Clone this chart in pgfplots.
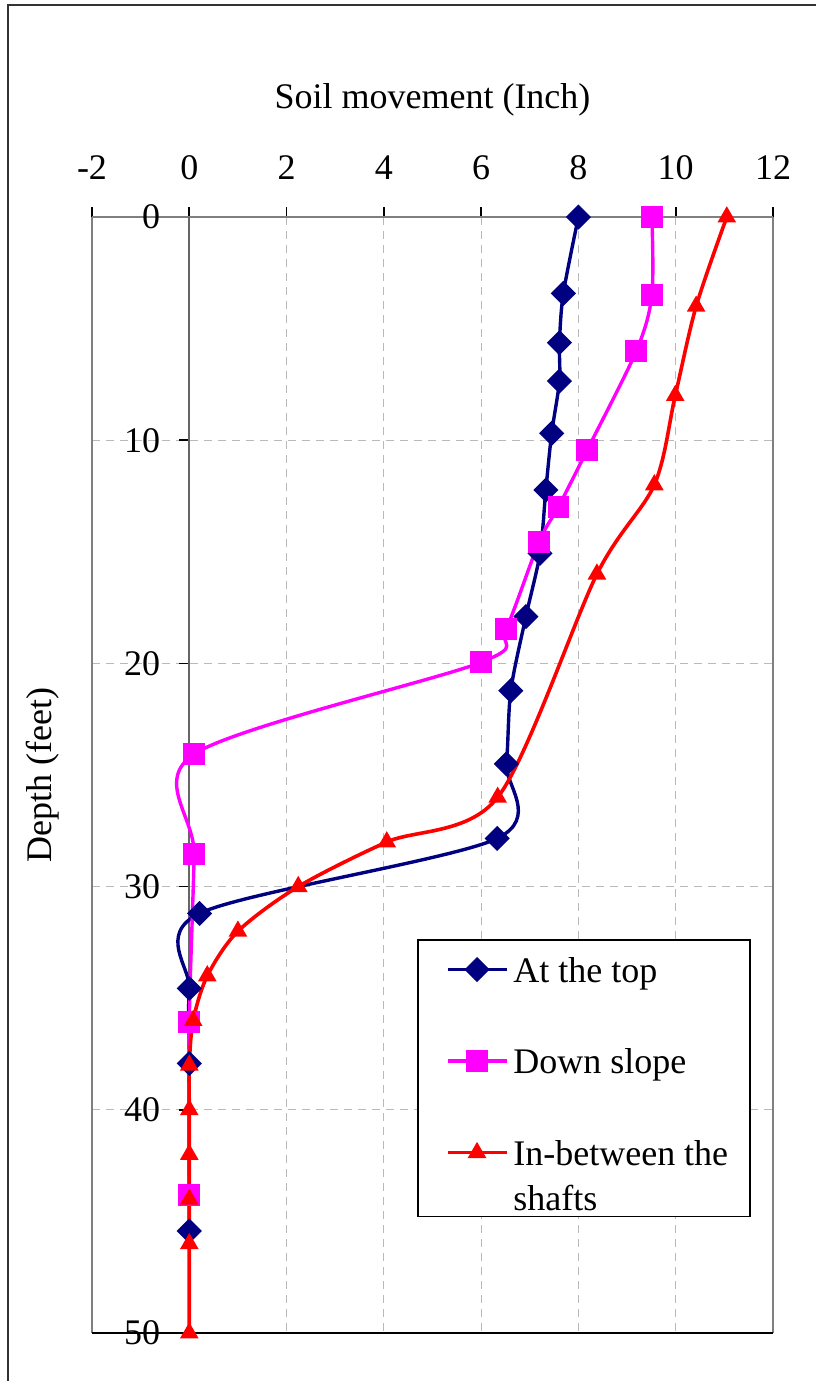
\documentclass[border=0pt]{standalone}
\usepackage{pgfplots}
\pgfplotsset{compat=1.18}
\usepackage{fontspec}
\setmainfont{Liberation Serif}
\definecolor{navyb}{RGB}{0,0,128}
\definecolor{magp}{RGB}{255,0,255}
\definecolor{redt}{RGB}{255,0,0}
\newcommand{\lentry}[1]{\raisebox{4pt}{\rule[-4pt]{0pt}{17pt}#1}}
\begin{document}
\begin{tikzpicture}
\useasboundingbox (0,0) rectangle (407.5pt,-690.5pt);
\draw[line width=0.9pt, black!80] (4pt,-700pt) -- (4pt,-2.5pt) -- (420pt,-2.5pt);
\begin{axis}[
 at={(46pt,-666.5pt)}, anchor=south west,
 scale only axis, width=340.5pt, height=558pt,
 xmin=-2, xmax=12, ymin=0, ymax=50, y dir=reverse,
 xtick={-2,0,...,12}, ytick={0,10,...,50},
 axis y line*=middle,
 hide obscured x ticks=false, hide obscured y ticks=false,
 xtick pos=right, xticklabel pos=right,
 tick align=outside,
 major tick length=5pt,
 tick style={black, line width=0.8pt},
 x axis line style={gray, line width=1pt},
 y axis line style={gray!80!black, line width=1pt, -},
 grid=major,
 major grid style={gray!55, dash pattern=on 4pt off 3pt, line width=0.6pt},
 /pgf/number format/assume math mode=true,
 ticklabel style={font=\fontsize{18}{21.6}\selectfont},
 xticklabel style={yshift=10pt},
 yticklabel style={xshift=-6pt},
 xlabel={Soil movement (Inch)},
 ylabel={Depth (feet)},
 label style={font=\fontsize{18}{21.6}\selectfont},
 xlabel style={at={(axis description cs:0.5,1.105)}, anchor=center},
 ylabel style={at={(axis description cs:-0.072,0.5)}, anchor=center, rotate=0},
 legend style={at={(axis cs:4.68,32.35)}, anchor=north west, draw=black, line width=0.8pt,
   font=\fontsize{18}{22.5}\selectfont,
   cells={anchor=north west},
   nodes={inner ysep=2pt, inner xsep=2.5pt},
   row sep=22pt, column sep=0pt, inner xsep=8.5pt, inner ysep=5pt},
 legend image code/.code={\path (0pt,0pt); \draw[mark repeat=2,mark phase=2] plot coordinates {(5.5pt,-9pt) (20.25pt,-9pt) (35pt,-9pt)};},
 clip=false,
]
\addplot[navyb, line width=1.7pt, smooth, tension=0.5, mark=square*, mark size=3.6pt, mark options={rotate=45, solid, fill=navyb}] coordinates {
 (8.0,0) (7.69,3.42) (7.61,5.63) (7.61,7.35) (7.45,9.69) (7.33,12.23) (7.21,15.07) (6.92,17.9) (6.61,21.22) (6.52,24.5) (6.33,27.84) (0.21,31.2) (0.0,34.56) (0.0,37.92) (0.0,45.43)
};
\addlegendentry{\lentry{At the top}}
\addplot[magp, line width=1.7pt, smooth, tension=0.5, mark=square*, mark size=4.6pt, mark options={solid, fill=magp}] coordinates {
 (9.51,0) (9.51,3.49) (9.19,6.0) (8.18,10.44) (7.59,12.98) (7.19,14.55) (6.51,18.47) (6.0,19.95) (0.1,24.06) (0.1,28.55) (0,36.05) (0,43.8)
};
\addlegendentry{\lentry{Down slope}}
\addplot[redt, line width=1.8pt, smooth, tension=0.5, mark=triangle*, mark size=3.6pt, mark options={solid, fill=redt}] coordinates {
 (11.05,0) (10.42,4) (9.99,8) (9.56,12) (8.38,16) (6.34,26) (4.06,28) (2.24,30) (1.0,32) (0.37,34) (0.08,36) (0,38) (0,40) (0,42) (0,44) (0,46) (0,50)
};
\addlegendentry{\raisebox{17pt}{\rule{0pt}{13pt}\vtop{\hbox{In-between the}\hbox{shafts}}}}
\draw[gray, line width=1pt] (rel axis cs:0,0) -- (rel axis cs:0,1);
\draw[gray, line width=1pt] (rel axis cs:1,0) -- (rel axis cs:1,1);
\draw[black, line width=1pt] (rel axis cs:0,0) -- (rel axis cs:1,0);
\end{axis}
\end{tikzpicture}
\end{document}
